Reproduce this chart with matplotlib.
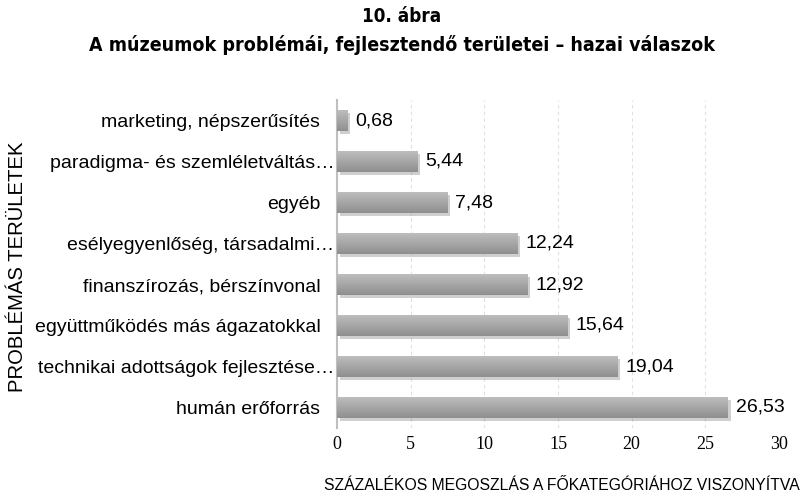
import numpy as np
import matplotlib.pyplot as plt
import matplotlib.patheffects as pe
from matplotlib.colors import LinearSegmentedColormap
from matplotlib.transforms import ScaledTranslation

categories = ['marketing, népszerűsítés', 'paradigma- és szemléletváltás…', 'egyéb',
              'esélyegyenlőség, társadalmi…', 'finanszírozás, bérszínvonal',
              'együttműködés más ágazatokkal', 'technikai adottságok fejlesztése…',
              'humán erőforrás']
values = [0.68, 5.44, 7.48, 12.24, 12.92, 15.64, 19.04, 26.53]
value_labels = ['0,68', '5,44', '7,48', '12,24', '12,92', '15,64', '19,04', '26,53']
xticks = [0, 5, 10, 15, 20, 25, 30]

fig = plt.figure(figsize=(8.04, 4.96), dpi=100)
ax = fig.add_axes([337 / 804, 1 - 428 / 496, (779 - 337) / 804, (428 - 100) / 496])

y = np.arange(len(categories))
bars = ax.barh(y, values, height=0.5, color='#a3a3a3', zorder=3,
               path_effects=[pe.SimplePatchShadow(offset=(2, -2), shadow_rgbFace='#888888', alpha=0.4),
                             pe.Normal()])

# vertical gradient inside each bar: lighter on top, darker at the bottom
cmap = LinearSegmentedColormap.from_list('g', ['#bdbdbd', '#8f8f8f'])
grad = np.linspace(0, 1, 64).reshape(-1, 1)
for b in bars:
    x0, y0 = b.get_x(), b.get_y()
    w, h = b.get_width(), b.get_height()
    im = ax.imshow(grad, cmap=cmap, aspect='auto',
                   extent=[x0, x0 + w, y0, y0 + h], origin='lower', zorder=4)
    im.set_clip_path(b)

for yi, v, lab in zip(y, values, value_labels):
    ax.text(v + 0.55, yi, lab, va='center', ha='left', fontsize=14,
            family='Liberation Sans', zorder=5)

ax.set_xlim(0, 30)
ax.set_ylim(len(categories) - 0.5, -0.5)
ax.set_xticks(xticks)
ax.set_xticklabels([str(t) for t in xticks], family='Liberation Serif', fontsize=13)
ax.set_yticks(y)
ax.set_yticklabels(categories, family='Liberation Sans', fontsize=14)
ax.tick_params(length=0, pad=6)
ax.tick_params(axis='y', pad=12)
# truncated labels sit a bit closer to the axis
shift = ScaledTranslation(14 / 100, 0, fig.dpi_scale_trans)
for t in ax.get_yticklabels():
    if t.get_text().endswith('…'):
        t.set_transform(t.get_transform() + shift)
ax.xaxis.grid(True, color='#e0e0e0', linestyle=(0, (3, 3)), linewidth=0.8, zorder=0)
for s in ['top', 'right', 'bottom']:
    ax.spines[s].set_visible(False)
ax.spines['left'].set_color('#bfbfbf')
ax.spines['left'].set_linewidth(1.5)

fig.text(0.995, 1 - 485 / 496, 'SZÁZALÉKOS MEGOSZLÁS A FŐKATEGÓRIÁHOZ VISZONYÍTVA',
         ha='right', va='center', family='Liberation Sans', fontsize=11.3)
fig.text(18 / 804, 1 - 267 / 496, 'PROBLÉMÁS TERÜLETEK', rotation=90,
         ha='center', va='center', family='Liberation Sans', fontsize=14.6)

fig.text(0.5, 1 - 16 / 496, '10. ábra', ha='center', va='center', fontsize=13.5,
         fontweight='bold', family='DejaVu Sans', fontstretch='condensed')
fig.text(0.5, 1 - 45 / 496, 'A múzeumok problémái, fejlesztendő területei – hazai válaszok',
         ha='center', va='center', fontsize=14, fontweight='bold',
         family='DejaVu Sans', fontstretch='condensed')

fig.savefig('out.png', dpi=100)
